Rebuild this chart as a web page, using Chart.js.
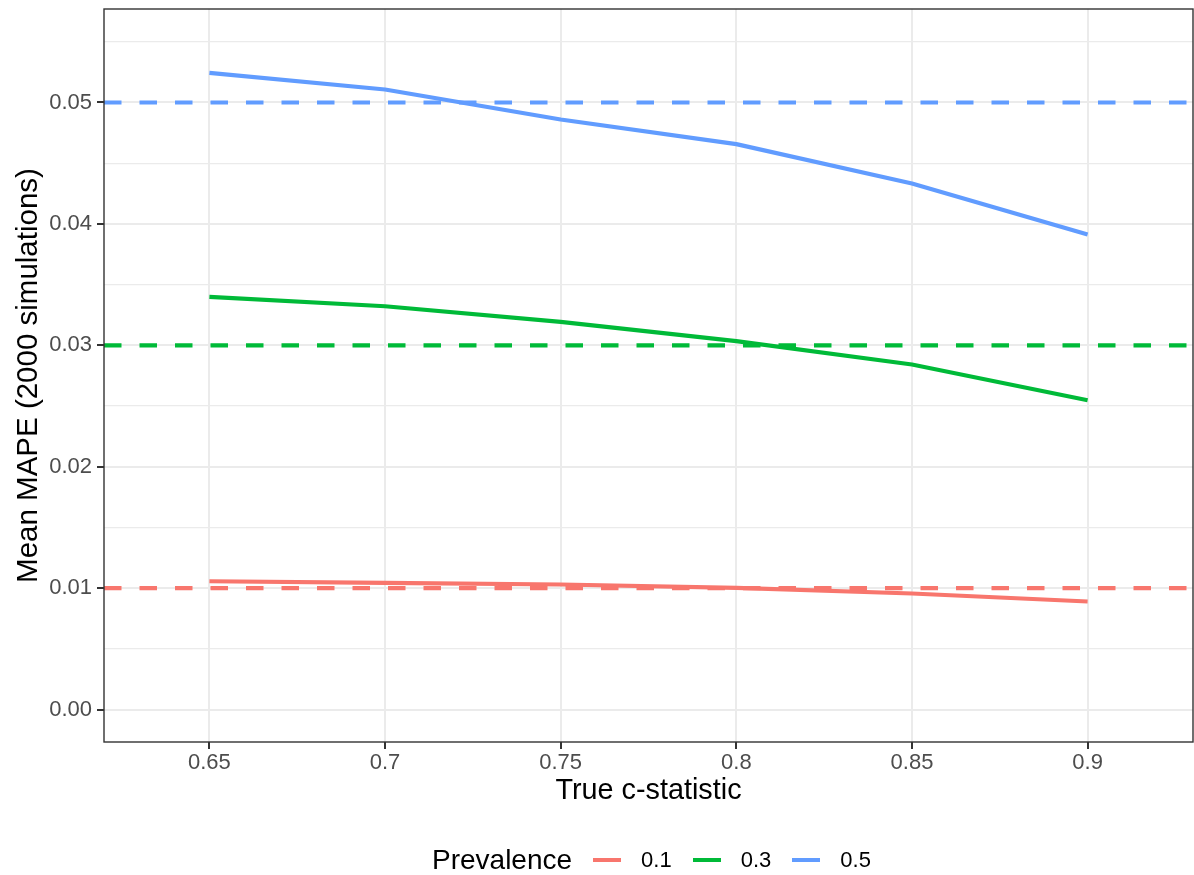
<!DOCTYPE html>
<html>
<head>
<meta charset="utf-8">
<script src="https://cdn.jsdelivr.net/npm/chart.js@4.4.1/dist/chart.umd.min.js"></script>
<style>
  html,body{margin:0;padding:0;background:#fff;}
  #wrap{position:relative;width:1194px;height:875px;font-family:"Liberation Sans",Arial,sans-serif;}
  #legend{position:absolute;left:432px;top:842px;height:36px;display:flex;align-items:center;color:#000;}
  #legend .title{font-size:28px;margin-right:21px;}
  #legend .key{width:28px;height:4px;margin-right:20px;}
  #legend .lab{font-size:22px;margin-right:21px;}
</style>
</head>
<body>
<div id="wrap">
  <canvas id="chart" width="1194" height="875"></canvas>
  <div id="legend"></div>
</div>
<script>
// ---------- Data
const categories = ['0.65', '0.7', '0.75', '0.8', '0.85', '0.9'];
const prevalence = ['0.1', '0.3', '0.5'];
const mape01 = [0.01057, 0.01043, 0.01030, 0.01002, 0.00956, 0.00890];
const mape03 = [0.03399, 0.03322, 0.03193, 0.03034, 0.02842, 0.02548];
const mape05 = [0.05244, 0.05107, 0.04860, 0.04657, 0.04333, 0.03913];
const targetLines = [0.01, 0.03, 0.05];
const seriesColors = ['#F8766D', '#00BA38', '#619CFF'];
const yMajorTicks = [0, 0.01, 0.02, 0.03, 0.04, 0.05];
const yMinorTicks = [0.005, 0.015, 0.025, 0.035, 0.045, 0.055];

const font = '"Liberation Sans", Arial, sans-serif';
const allSeries = [mape01, mape03, mape05];

// ---------- Helpers
function isMajor(v){ return yMajorTicks.some(m => Math.abs(m - v) < 1e-9); }
function noPad(s){ s.paddingTop = 0; s.paddingBottom = 0; s.paddingLeft = 0; s.paddingRight = 0; }

const datasets = allSeries.map((vals, i) => ({
  label: prevalence[i],
  data: vals.map((v, j) => ({x: j, y: v})),
  borderColor: seriesColors[i],
  borderWidth: 4.2,
  borderCapStyle: 'butt',
  borderJoinStyle: 'round',
  pointRadius: 0,
  tension: 0,
  fill: false
}));

// dashed reference lines + full panel border
const refLines = {
  id: 'refLines',
  afterDatasetsDraw(chart){
    const {ctx, chartArea: a, scales: {y}} = chart;
    ctx.save();
    ctx.beginPath(); ctx.rect(a.left, a.top, a.right - a.left, a.bottom - a.top); ctx.clip();
    targetLines.forEach((v, i) => {
      const py = y.getPixelForValue(v);
      ctx.strokeStyle = seriesColors[i];
      ctx.lineWidth = 4.2;
      ctx.lineCap = 'butt';
      ctx.setLineDash([17.5, 18]);
      ctx.beginPath(); ctx.moveTo(a.left, py); ctx.lineTo(a.right, py); ctx.stroke();
    });
    ctx.restore();
  },
  afterDraw(chart){
    const {ctx, chartArea: a} = chart;
    ctx.save();
    ctx.strokeStyle = '#333333';
    ctx.lineWidth = 1.4;
    ctx.strokeRect(a.left, a.top, a.right - a.left, a.bottom - a.top);
    ctx.restore();
  }
};

const ctx = document.getElementById('chart').getContext('2d');
new Chart(ctx, {
  type: 'line',
  data: {datasets},
  plugins: [refLines],
  options: {
    responsive: false,
    animation: false,
    layout: {padding: {top: 9, right: 1, bottom: 0, left: 0}},
    plugins: {legend: {display: false}, tooltip: {enabled: false}},
    scales: {
      x: {
        type: 'linear',
        min: -0.6, max: 5.6,
        afterBuildTicks: s => { s.ticks = categories.map((c, i) => ({value: i})); },
        afterFit: s => { s.height = 133; noPad(s); },
        border: {display: false},
        grid: {color: '#EBEBEB', lineWidth: 2, drawTicks: true, tickLength: 7, tickColor: '#333333', tickWidth: 2},
        ticks: {font: {family: font, size: 22}, color: '#4D4D4D', padding: 1, autoSkip: false, maxRotation: 0,
                callback: v => categories[v]},
        title: {display: true, text: 'True c-statistic', color: '#000', font: {family: font, size: 28.8},
                padding: {top: 0, bottom: 67}}
      },
      y: {
        type: 'linear',
        min: -0.00267, max: 0.0577,
        afterBuildTicks: s => {
          s.ticks = yMajorTicks.concat(yMinorTicks).sort((a, b) => a - b).map(v => ({value: v}));
        },
        afterFit: s => { s.width = 104; noPad(s); },
        border: {display: false},
        grid: {
          color: '#EBEBEB',
          lineWidth: c => isMajor(c.tick.value) ? 2 : 1.2,
          drawTicks: true, tickLength: 7,
          tickColor: c => isMajor(c.tick.value) ? '#333333' : 'rgba(0,0,0,0)',
          tickWidth: 2
        },
        ticks: {font: {family: font, size: 22}, color: '#4D4D4D', padding: 5, autoSkip: false,
                callback: v => isMajor(v) ? v.toFixed(2) : ''},
        title: {display: true, text: 'Mean MAPE (2000 simulations)', color: '#000', font: {family: font, size: 29.5},
                padding: {top: 11, bottom: 0}}
      }
    }
  }
});

// ---------- Legend
const legend = document.getElementById('legend');
legend.innerHTML = '<span class="title">Prevalence</span>' +
  prevalence.map((p, i) => `<span class="key" style="background:${seriesColors[i]}"></span><span class="lab">${p}</span>`).join('');
</script>
</body>
</html>
